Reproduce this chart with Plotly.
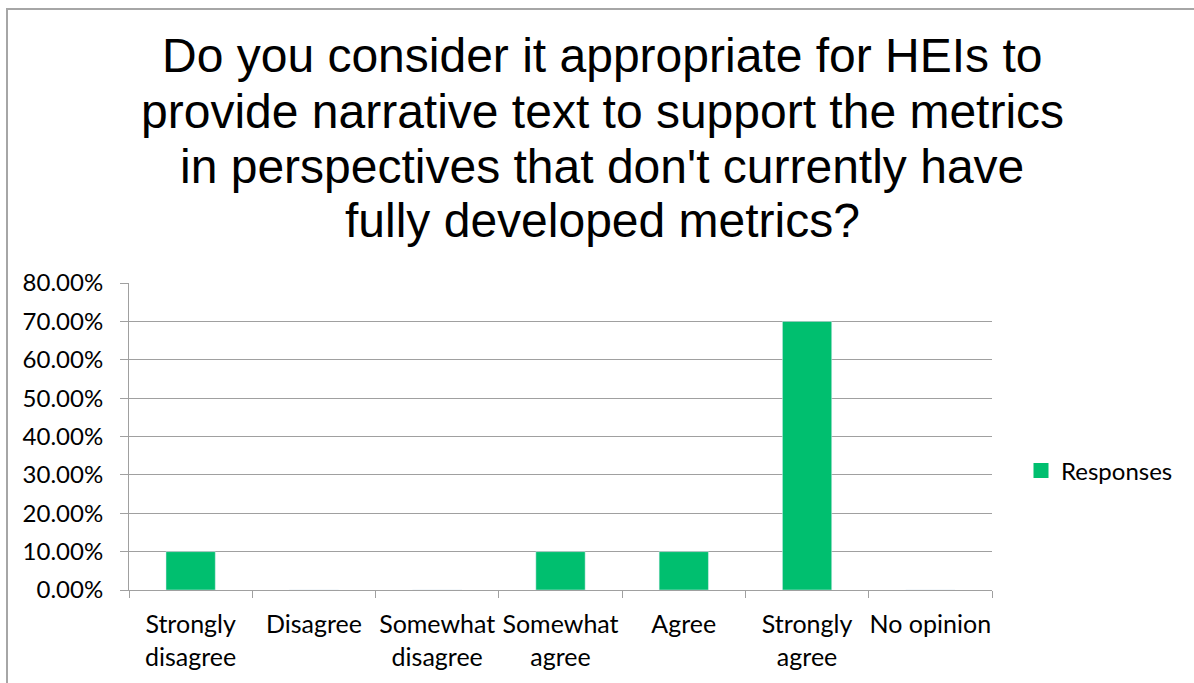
import plotly.graph_objects as go

categories = ["Strongly<br>disagree", "Disagree", "Somewhat<br>disagree", "Somewhat<br>agree",
              "Agree", "Strongly<br>agree", "No opinion"]
responses = [0.10, 0.0, 0.0, 0.10, 0.10, 0.70, 0.0]
series_name = "Responses"
title_lines = [
    "Do you consider it appropriate for HEIs to",
    "provide narrative text to support the metrics",
    "in perspectives that don't currently have",
    "fully developed metrics?",
]
y_ticks = [0, 0.1, 0.2, 0.3, 0.4, 0.5, 0.6, 0.7, 0.8]

GREEN = "#00BF6F"
GRID = "#A0A0A0"
W, H = 1194, 683
L, R, T, B = 129, 202, 283, 93
PW, PH = W - L - R, H - T - B


def px_x(px):
    return (px - L) / PW


def px_y(py):
    return (H - B - py) / PH


fig = go.Figure()
fig.add_trace(go.Bar(x=categories, y=responses, marker_color=GREEN, width=0.4,
                     showlegend=False, name=series_name))
fig.add_trace(go.Scatter(x=[None], y=[None], mode="markers", name=series_name,
                         marker=dict(symbol="square", size=15, color=GREEN)))

title_centers = [56, 111, 166, 221]
for line, cy in zip(title_lines, title_centers):
    fig.add_annotation(text=line, xref="paper", yref="paper", x=px_x(602), y=px_y(cy),
                       xanchor="center", yanchor="middle", showarrow=False,
                       font=dict(family="Liberation Sans, Arial", size=48, color="#000000"))

# chart frame
fig.add_shape(type="rect", xref="paper", yref="paper",
              x0=px_x(7), x1=px_x(1300), y0=px_y(800), y1=px_y(9),
              line=dict(color="#A6A6A6", width=2), fillcolor="rgba(0,0,0,0)", layer="below")

fig.update_layout(
    width=W, height=H,
    margin=dict(l=L, r=R, t=T, b=B, pad=0, autoexpand=False),
    paper_bgcolor="white", plot_bgcolor="white",
    font=dict(family="Lato, Noto Sans, sans-serif", size=24, color="#000000"),
    showlegend=True,
    legend=dict(x=px_x(1021), y=px_y(471), xanchor="left", yanchor="middle",
                font=dict(size=24), bgcolor="rgba(0,0,0,0)"),
    xaxis=dict(showgrid=False, showline=True, linecolor=GRID, linewidth=1,
               ticks="outside", tickson="boundaries", ticklen=7, tickcolor=GRID,
               tickangle=0, automargin=False, ticklabelstandoff=12,
               tickfont=dict(size=25)),
    yaxis=dict(range=[0, 0.8], tickvals=y_ticks, tickformat=".2%",
               showgrid=True, gridcolor=GRID, gridwidth=1,
               showline=True, linecolor=GRID, linewidth=1,
               ticks="outside", ticklen=8, tickcolor=GRID, automargin=False,
               ticklabelstandoff=12, zeroline=False, tickfont=dict(size=24)),
)

fig.write_html("out.html")
